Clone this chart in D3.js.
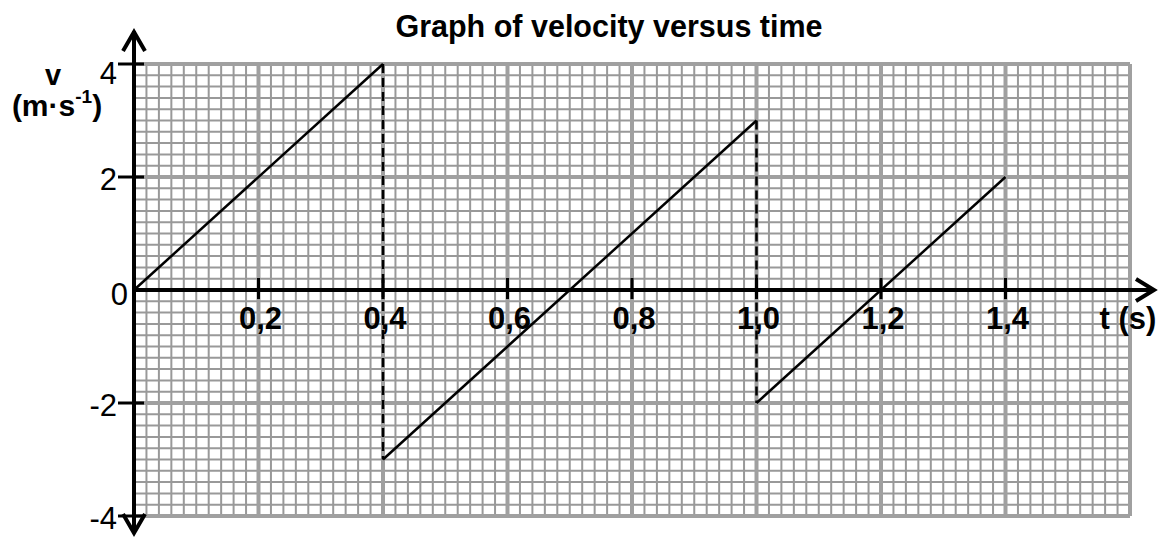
<!DOCTYPE html>
<html>
<head>
<meta charset="utf-8">
<script src="https://cdn.jsdelivr.net/npm/d3@7"></script>
<style>
  body { margin: 0; background: #fff; }
  svg { display: block; font-family: Arial, "Liberation Sans", sans-serif; }
</style>
</head>
<body>
<div id="chart"></div>
<script>
/** data: turning points of the v-t graph **/
var times = [0, 0.4, 0.4, 1.0, 1.0, 1.4];
var velocities = [0, 4, -3, 3, -2, 2];

/** ticks **/
var xTicks = [0.2, 0.4, 0.6, 0.8, 1.0, 1.2, 1.4];
var xTickLabels = ["0,2", "0,4", "0,6", "0,8", "1,0", "1,2", "1,4"];
var yTicks = [4, 2, -2, -4];
var yTickLabels = ["4", "2", "-2", "-4"];

var width = 1161, height = 537;

var x = d3.scaleLinear().domain([0, 1.6]).range([134, 1130]);
var y = d3.scaleLinear().domain([-4, 4]).range([516, 64]);

var svg = d3.select("#chart").append("svg")
    .attr("width", width)
    .attr("height", height);

/** graph paper **/
var minorT = d3.range(0, 81).map(function(i) { return { v: i * 0.02, major: i % 10 == 0 }; });
var minorV = d3.range(0, 41).map(function(i) { return { v: -4 + i * 0.2, major: i % 10 == 0 }; });

var grid = svg.append("g").attr("class", "grid");

function drawGrid(major) {
    grid.selectAll(null)
        .data(minorT.filter(function(d) { return d.major == major; }))
        .enter().append("line")
        .attr("x1", function(d) { return x(d.v); })
        .attr("x2", function(d) { return x(d.v); })
        .attr("y1", y(4))
        .attr("y2", y(-4))
        .style("stroke", major ? "#a0a0a0" : "#999")
        .style("stroke-width", major ? 4 : 2);

    grid.selectAll(null)
        .data(minorV.filter(function(d) { return d.major == major; }))
        .enter().append("line")
        .attr("y1", function(d) { return y(d.v); })
        .attr("y2", function(d) { return y(d.v); })
        .attr("x1", x(0))
        .attr("x2", x(1.6))
        .style("stroke", major ? "#a0a0a0" : "#999")
        .style("stroke-width", major ? 4 : 2);
}
drawGrid(false);
drawGrid(true);

/** axes **/
var axes = svg.append("g").attr("class", "axes")
    .style("stroke", "#000").style("fill", "none");

axes.append("line")
    .attr("x1", x(0)).attr("x2", x(0))
    .attr("y1", 31).attr("y2", 533)
    .style("stroke-width", 4);
axes.append("line")
    .attr("x1", x(0)).attr("x2", 1153)
    .attr("y1", y(0)).attr("y2", y(0))
    .style("stroke-width", 4);

// arrow heads
axes.append("path")
    .attr("d", "M" + (x(0) - 11) + ",51 L" + x(0) + ",32 L" + (x(0) + 11) + ",51")
    .style("stroke-width", 4);
axes.append("path")
    .attr("d", "M" + (x(0) - 11) + ",514 L" + x(0) + ",533 L" + (x(0) + 11) + ",514")
    .style("stroke-width", 4);
axes.append("path")
    .attr("d", "M1136," + (y(0) - 11) + " L1154," + y(0) + " L1136," + (y(0) + 11))
    .style("stroke-width", 4);

// ticks
axes.selectAll(".xtick")
    .data(xTicks)
    .enter().append("line")
    .attr("class", "xtick")
    .attr("x1", function(d) { return x(d); })
    .attr("x2", function(d) { return x(d); })
    .attr("y1", y(0) - 12)
    .attr("y2", y(0) + 9)
    .style("stroke-width", 3);

axes.selectAll(".ytick")
    .data(yTicks)
    .enter().append("line")
    .attr("class", "ytick")
    .attr("y1", function(d) { return y(d); })
    .attr("y2", function(d) { return y(d); })
    .attr("x1", x(0) - 16)
    .attr("x2", x(0) + 10)
    .style("stroke-width", 3);

/** tick labels **/
svg.selectAll(".xlabel")
    .data(xTicks)
    .enter().append("text")
    .attr("class", "xlabel")
    .attr("x", function(d) { return x(d) + 2; })
    .attr("y", y(0) + 39)
    .attr("text-anchor", "middle")
    .style("font-size", "31px")
    .style("font-weight", "bold")
    .text(function(d, i) { return xTickLabels[i]; });

svg.selectAll(".ylabel")
    .data(yTicks)
    .enter().append("text")
    .attr("class", "ylabel")
    .attr("x", x(0) - 17)
    .attr("y", function(d) { return y(d) + (d == 4 ? 20 : 13); })
    .attr("text-anchor", "end")
    .style("font-size", "31px")
    .text(function(d, i) { return yTickLabels[i]; });

svg.append("text")
    .attr("x", x(0) - 6)
    .attr("y", y(0) + 15)
    .attr("text-anchor", "end")
    .style("font-size", "31px")
    .text("0");

/** axis titles **/
svg.append("text")
    .attr("x", 1128)
    .attr("y", y(0) + 39)
    .attr("text-anchor", "middle")
    .style("font-size", "31px")
    .style("font-weight", "bold")
    .text("t (s)");

svg.append("text")
    .attr("x", 53)
    .attr("y", 85)
    .attr("text-anchor", "middle")
    .style("font-size", "29px")
    .style("font-weight", "bold")
    .text("v");

var unit = svg.append("text")
    .attr("x", 57)
    .attr("y", 116)
    .attr("text-anchor", "middle")
    .style("font-size", "30px")
    .style("font-weight", "bold");
unit.append("tspan").text("(m·s");
unit.append("tspan").attr("dy", -13).style("font-size", "19px").text("-1");
unit.append("tspan").attr("dy", 13).text(")");

svg.append("text")
    .attr("x", 609)
    .attr("y", 37)
    .attr("text-anchor", "middle")
    .style("font-size", "30.5px")
    .style("font-weight", "bold")
    .text("Graph of velocity versus time");

/** the v-t line **/
var pts = times.map(function(t, i) { return [t, velocities[i]]; });
var segs = d3.range(0, pts.length - 1).map(function(i) {
    return { a: pts[i], b: pts[i + 1], dashed: pts[i][0] == pts[i + 1][0] };
});

svg.append("g").attr("class", "graph")
    .selectAll("line")
    .data(segs)
    .enter().append("line")
    .attr("x1", function(d) { return x(d.a[0]); })
    .attr("y1", function(d) { return y(d.a[1]); })
    .attr("x2", function(d) { return x(d.b[0]); })
    .attr("y2", function(d) { return y(d.b[1]); })
    .style("stroke", "#000")
    .style("stroke-width", 2.5)
    .style("stroke-dasharray", function(d) { return d.dashed ? "9,5" : null; });
</script>
</body>
</html>
